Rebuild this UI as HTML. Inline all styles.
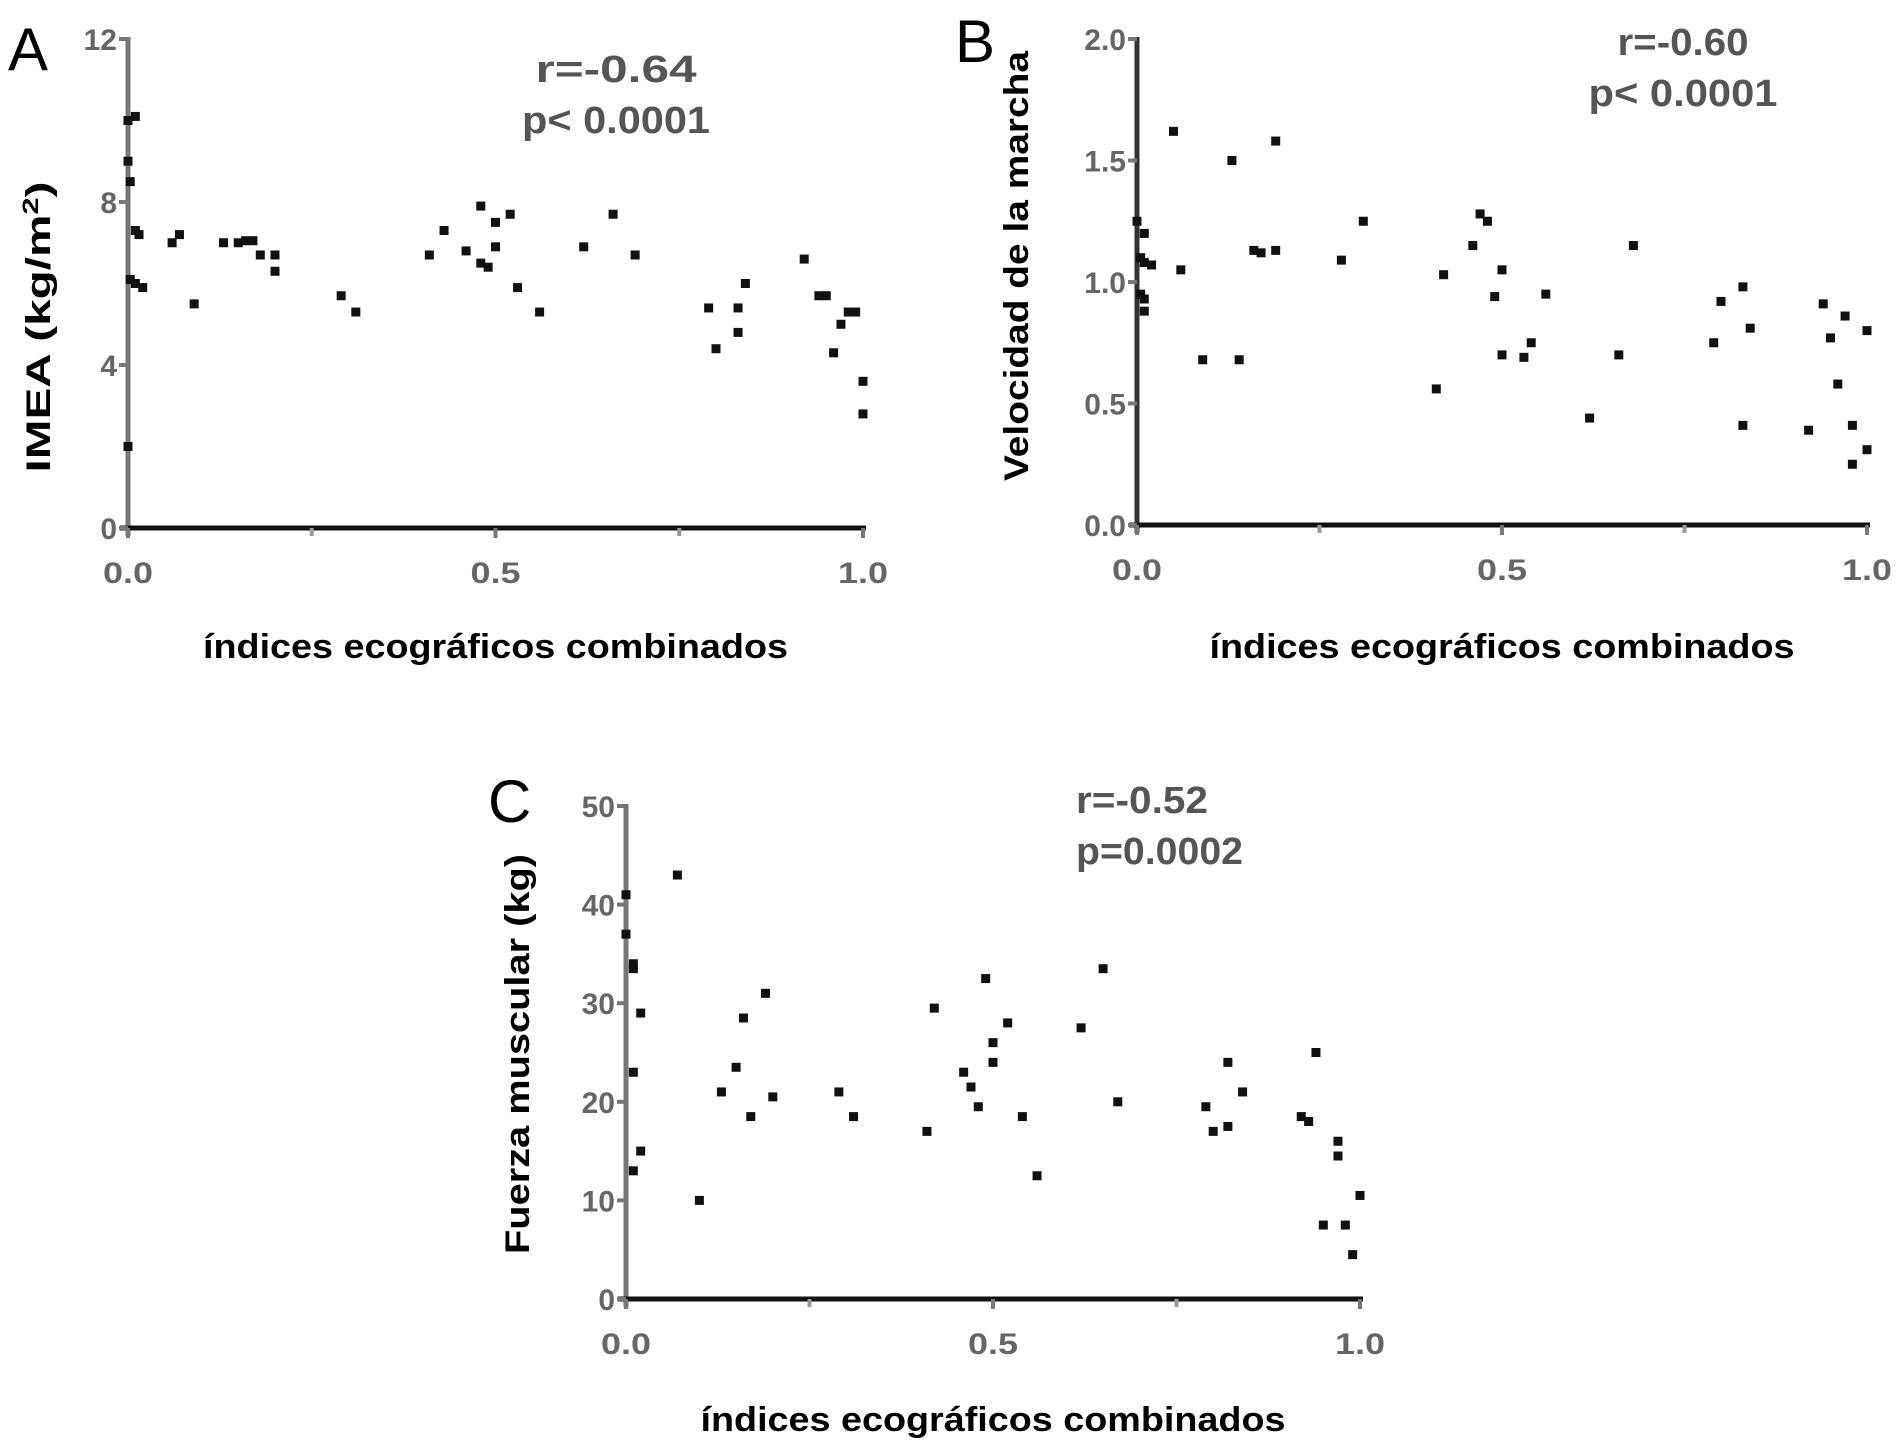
<!DOCTYPE html>
<html><head><meta charset="utf-8"><style>
html,body{margin:0;padding:0;background:#fff;}
svg{display:block;}
.tick{font-family:"Liberation Sans",sans-serif;font-weight:bold;font-size:30px;fill:#666;}
.ann{font-family:"Liberation Sans",sans-serif;font-weight:bold;font-size:38px;fill:#555;}
.title{font-family:"Liberation Sans",sans-serif;font-weight:bold;font-size:34px;fill:#000;}
.letter{font-family:"Liberation Sans",sans-serif;font-size:60px;fill:#000;}
</style></head><body>
<svg id="fig" width="1900" height="1449" viewBox="0 0 1900 1449"></svg>
<script>
// Panel A data
const aX=[0,0.01,0,0.003,0.01,0.015,0.003,0.01,0.02,0,0.06,0.07,0.09,0.13,0.15,0.16,0.17,0.18,0.20,0.20,0.29,0.31,0.41,0.43,0.46,0.48,0.48,0.49,0.50,0.50,0.52,0.53,0.56,0.62,0.66,0.69,0.79,0.80,0.83,0.83,0.84,0.92,0.94,0.95,0.96,0.97,0.98,0.99,1.0,1.0];
const aY=[10.0,10.1,9.0,8.5,7.3,7.2,6.1,6.0,5.9,2.0,7.0,7.2,5.5,7.0,7.0,7.05,7.05,6.7,6.7,6.3,5.7,5.3,6.7,7.3,6.8,6.5,7.9,6.4,7.5,6.9,7.7,5.9,5.3,6.9,7.7,6.7,5.4,4.4,4.8,5.4,6.0,6.6,5.7,5.7,4.3,5.0,5.3,5.3,3.6,2.8];
const aTicks=["0","4","8","12"];
// Panel B data
const bX=[0,0.01,0.005,0.01,0.02,0.005,0.01,0.01,0.05,0.06,0.09,0.13,0.14,0.16,0.17,0.19,0.19,0.28,0.31,0.41,0.42,0.46,0.47,0.48,0.49,0.50,0.50,0.53,0.54,0.56,0.62,0.66,0.68,0.79,0.80,0.83,0.83,0.84,0.92,0.94,0.95,0.96,0.97,0.98,0.98,1.0,1.0];
const bY=[1.25,1.2,1.1,1.08,1.07,0.95,0.93,0.88,1.62,1.05,0.68,1.5,0.68,1.13,1.12,1.58,1.13,1.09,1.25,0.56,1.03,1.15,1.28,1.25,0.94,1.05,0.70,0.69,0.75,0.95,0.44,0.70,1.15,0.75,0.92,0.98,0.41,0.81,0.39,0.91,0.77,0.58,0.86,0.41,0.25,0.31,0.80];
const bTicks=["0.0","0.5","1.0","1.5","2.0"];
// Panel C data
const cX=[0,0,0.01,0.01,0.02,0.01,0.02,0.01,0.07,0.10,0.13,0.15,0.16,0.17,0.19,0.20,0.29,0.31,0.41,0.42,0.46,0.47,0.48,0.49,0.50,0.50,0.52,0.54,0.56,0.62,0.65,0.67,0.79,0.80,0.82,0.82,0.84,0.92,0.93,0.94,0.95,0.97,0.97,0.98,0.99,1.0];
const cY=[41,37,34,33.5,29,23,15,13,43,10,21,23.5,28.5,18.5,31,20.5,21,18.5,17,29.5,23,21.5,19.5,32.5,26,24,28,18.5,12.5,27.5,33.5,20,19.5,17,17.5,24,21,18.5,18,25,7.5,14.5,16,7.5,4.5,10.5];
const cTicks=["0","10","20","30","40","50"];
const xTicks=["0.0","0.5","1.0"];

const NS="http://www.w3.org/2000/svg";
const svg=document.getElementById('fig');
function mk(tag,attrs,parent){const e=document.createElementNS(NS,tag);for(const k in attrs)e.setAttribute(k,attrs[k]);(parent||svg).appendChild(e);return e;}

function panel(cfg){
  const g=mk('g',{});
  
  
  const sx=v=>cfg.x0+(cfg.x1-cfg.x0)*v;
  const sy=v=>cfg.y0-(cfg.y0-cfg.yTop)*(v/cfg.ymax);
  const ax=mk('g',{},g);
  
  
  mk('line',{x1:cfg.x0,y1:cfg.yTop-2,x2:cfg.x0,y2:cfg.y0+8,stroke:cfg.axisColor,'stroke-width':5},ax);
  mk('line',{x1:cfg.x0-8,y1:cfg.y0,x2:cfg.x1+3,y2:cfg.y0,stroke:'#111','stroke-width':5},ax);
  cfg.ticks.forEach((t,i)=>{
    const v=i*cfg.ymax/(cfg.ticks.length-1);
    mk('line',{x1:cfg.x0-9,y1:sy(v),x2:cfg.x0,y2:sy(v),stroke:'#777','stroke-width':4},ax);
    const tx=mk('text',{x:cfg.x0-11,y:sy(v)+11,'text-anchor':'end',class:'tick'},ax);
    tx.textContent=t;
    
    
  });
  [0.25,0.75].forEach(v=>mk('line',{x1:sx(v),y1:cfg.y0,x2:sx(v),y2:cfg.y0+8,stroke:'#999','stroke-width':4},ax));
  xTicks.forEach((t,i)=>{
    const v=i*0.5;
    mk('line',{x1:sx(v),y1:cfg.y0,x2:sx(v),y2:cfg.y0+10,stroke:'#777','stroke-width':4},ax);
    const tx=mk('text',{x:sx(v),y:cfg.y0+55,'text-anchor':'middle',class:'tick',textLength:50,lengthAdjust:'spacingAndGlyphs'},ax);
    tx.textContent=t;
    
    
  });
  const pts=mk('g',{},g);
  
  
  cfg.xs.forEach((xv,i)=>{
    const r=mk('rect',{x:sx(xv)-4.5,y:sy(cfg.ys[i])-4.5,width:9,height:9,fill:'#111'},pts);
    
    
  });
  const xt=mk('text',{x:(cfg.x0+cfg.x1)/2,y:cfg.xtY,'text-anchor':'middle',class:'title',textLength:585,lengthAdjust:'spacingAndGlyphs'},g);
  xt.textContent='índices ecográficos combinados';
  
  
  const yt=mk('text',{x:0,y:0,'text-anchor':'middle',class:'title',textLength:cfg.ytLen,lengthAdjust:'spacingAndGlyphs',transform:`translate(${cfg.ytX},${cfg.ytY}) rotate(-90)`},g);
  yt.innerHTML=cfg.ytitle;
  
  
  const L=mk('text',{x:cfg.lx,y:cfg.ly,class:'letter'},g);
  L.textContent=cfg.letter;
  
  
  cfg.ann.forEach((s,i)=>{
    const a=mk('text',{x:cfg.annX,y:cfg.annY+i*51,'text-anchor':cfg.annAnchor,class:'ann',textLength:cfg.annLen[i],lengthAdjust:'spacingAndGlyphs'},g);
    a.textContent=s;
    
    
  });
}

panel({name:'panel-a',x0:128,x1:863,yTop:39,y0:528,ymax:12,ticks:aTicks,xs:aX,ys:aY,axisColor:'#777',
  xtY:658,ytX:50,ytY:327,ytLen:291,ytitle:'IMEA (kg/m<tspan dy="-12" font-size="22">2</tspan><tspan dy="12">)</tspan>',
  letter:'A',lx:8,ly:70,ann:['r=-0.64','p< 0.0001'],annLen:[161,188],annX:616,annY:82,annAnchor:'middle'});
panel({name:'panel-b',x0:1137,x1:1867,yTop:39,y0:525,ymax:2,ticks:bTicks,xs:bX,ys:bY,axisColor:'#333',
  xtY:658,ytX:1028,ytY:266,ytLen:430,ytitle:'Velocidad de la marcha',
  letter:'B',lx:955,ly:62,ann:['r=-0.60','p< 0.0001'],annLen:[131,189],annX:1683,annY:55,annAnchor:'middle'});
panel({name:'panel-c',x0:626,x1:1360,yTop:806,y0:1299,ymax:50,ticks:cTicks,xs:cX,ys:cY,axisColor:'#777',
  xtY:1431,ytX:529,ytY:1054,ytLen:400,ytitle:'Fuerza muscular (kg)',
  letter:'C',lx:488,ly:822,ann:['r=-0.52','p=0.0002'],annLen:[132,167],annX:1076,annY:813,annAnchor:'start'});
</script>
</body></html>
